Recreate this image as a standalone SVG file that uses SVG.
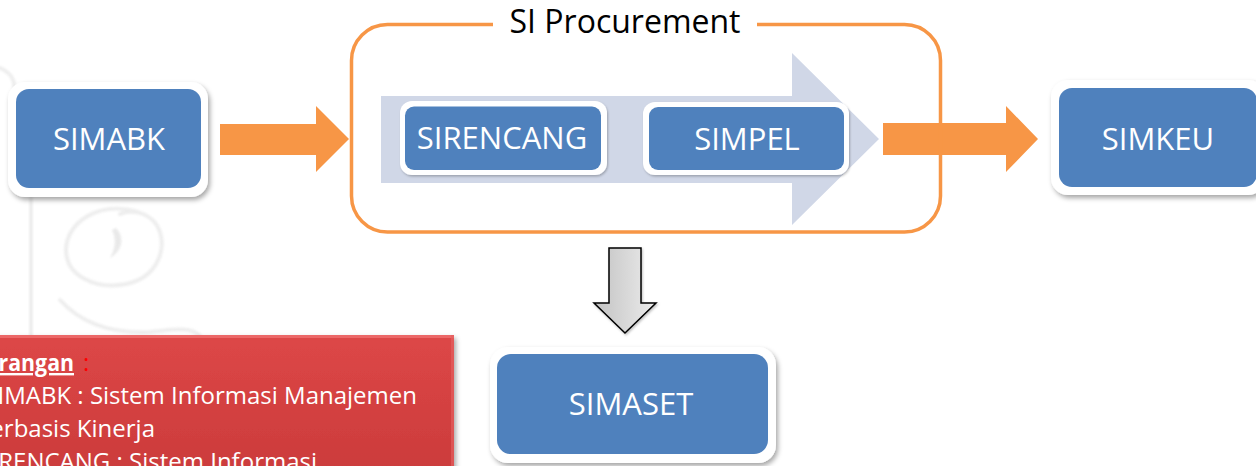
<svg xmlns="http://www.w3.org/2000/svg" width="1256" height="466" viewBox="0 0 1256 466">
  <defs>
    <filter id="shadow" x="-10%" y="-10%" width="130%" height="140%">
      <feDropShadow dx="2" dy="3" stdDeviation="2.5" flood-color="#000" flood-opacity="0.35"/>
    </filter>
    <filter id="softShadow" x="-10%" y="-10%" width="130%" height="140%">
      <feDropShadow dx="1" dy="1.5" stdDeviation="1.2" flood-color="#000" flood-opacity="0.25"/>
    </filter>
    <filter id="haze" x="-10%" y="-10%" width="120%" height="120%">
      <feGaussianBlur stdDeviation="1.2"/>
    </filter>
    <linearGradient id="grayArrow" x1="0" y1="0" x2="1" y2="0">
      <stop offset="0" stop-color="#c2c2c2"/>
      <stop offset="1" stop-color="#ececec"/>
    </linearGradient>
    <linearGradient id="redFill" x1="0" y1="0" x2="0" y2="1">
      <stop offset="0" stop-color="#dd4747"/>
      <stop offset="1" stop-color="#cb3b3b"/>
    </linearGradient>
    <style>
      .outer { fill: #ffffff; filter: url(#shadow); }
      .outer-small { fill: #ffffff; filter: url(#softShadow); }
      .inner { fill: #4f81bd; }
      .label { font-family: 'Open Sans', 'Noto Sans', sans-serif; font-size: 31px; fill: #ffffff; text-anchor: middle; }
      .flow { fill: #f79646; }
      .legend { font-family: 'Open Sans', 'Noto Sans', sans-serif; font-size: 24px; fill: #ffffff; text-anchor: end; }
      .swirl { fill: none; stroke: #ebebeb; stroke-width: 4; stroke-linecap: round; }
    </style>
  </defs>

  <rect width="1256" height="466" fill="#ffffff"/>

  <!-- faint ornamental background -->
  <g id="ornament" filter="url(#haze)" opacity="0.85">
    <path class="swirl" d="M31,198 V340"/>
    <path class="swirl" d="M138,212 C100,200 66,222 66,250 C66,276 96,290 126,284 C156,278 166,252 160,232 C154,214 134,208 120,214"/>
    <path d="M116,228 C124,236 124,250 110,258 C116,248 116,238 112,230 Z" fill="#e6e6e6"/>
    <path class="swirl" d="M60,300 C80,322 110,334 150,332 C172,330 190,326 200,336"/>
    <path class="swirl" d="M0,68 C10,72 16,80 14,92"/>
  </g>

  <!-- connectors -->
  <g id="connectors">
    <polygon class="flow" points="220,124 316,124 316,106 349,139 316,172 316,155 220,155"/>
    <polygon class="flow" points="883,123 1006,123 1006,106 1038,139 1006,172 1006,155 883,155"/>
    <polygon points="609,248 641,248 641,303 656,303 625,333 594,303 609,303" fill="url(#grayArrow)" stroke="#000000" stroke-width="1.5" stroke-linejoin="miter" filter="url(#softShadow)"/>
  </g>

  <!-- SI Procurement container -->
  <g id="si-procurement">
    <path d="M757,24.5 H904.5 A36,36 0 0 1 940.5,60.5 V196 A36,36 0 0 1 904.5,232 H387.5 A36,36 0 0 1 351.5,196 V60.5 A36,36 0 0 1 387.5,24.5 H493" fill="none" stroke="#f79646" stroke-width="3.5"/>
    <text x="625" y="33" font-family="'Open Sans', 'Noto Sans', sans-serif" font-size="32" fill="#000000" text-anchor="middle">SI Procurement</text>
    <polygon points="381,96 792,96 792,53 879,139 792,225 792,183 381,183" fill="#d0d7e7"/>
  </g>

  <g id="sirencang">
    <rect class="outer-small" x="400" y="101" width="207" height="74" rx="12"/>
    <rect class="inner" x="405" y="106.5" width="196" height="63.5" rx="9"/>
    <text class="label" x="502" y="149" font-size="30">SIRENCANG</text>
  </g>

  <g id="simpel">
    <rect class="outer-small" x="643" y="102" width="206" height="73" rx="12"/>
    <rect class="inner" x="649" y="107" width="195" height="63" rx="9"/>
    <text class="label" x="747" y="150" font-size="30">SIMPEL</text>
  </g>

  <g id="simabk">
    <rect class="outer" x="8" y="82" width="200" height="115" rx="17"/>
    <rect class="inner" x="16" y="89" width="185" height="99" rx="13"/>
    <text class="label" x="109" y="150">SIMABK</text>
  </g>

  <g id="simkeu">
    <rect class="outer" x="1051" y="80" width="214" height="115" rx="17"/>
    <rect class="inner" x="1059" y="88" width="198" height="99" rx="13"/>
    <text class="label" x="1158" y="150">SIMKEU</text>
  </g>

  <g id="simaset">
    <rect class="outer" x="490" y="347" width="286" height="116" rx="18"/>
    <rect class="inner" x="497" y="354" width="271" height="100" rx="14"/>
    <text class="label" x="631" y="415">SIMASET</text>
  </g>

  <!-- legend panel -->
  <g id="keterangan">
    <rect x="-10" y="335" width="464" height="140" fill="url(#redFill)" filter="url(#shadow)"/>
    <rect x="-10" y="335" width="464" height="3" fill="#f07070" opacity="0.8"/>
    <rect x="451" y="335" width="3" height="140" fill="#e46060" opacity="0.7"/>
    <text class="legend" x="74" y="371" font-weight="bold" font-size="25" textLength="124" lengthAdjust="spacingAndGlyphs" text-decoration="underline">Keterangan</text>
    <text x="83" y="371" font-family="'Open Sans', 'Noto Sans', sans-serif" font-size="24" fill="#ff0000">:</text>
    <text class="legend" x="417" y="404">SIMABK : Sistem Informasi Manajemen</text>
    <text class="legend" x="155" y="437">Berbasis Kinerja</text>
    <text class="legend" x="317" y="470">SIRENCANG : Sistem Informasi</text>
  </g>
</svg>
